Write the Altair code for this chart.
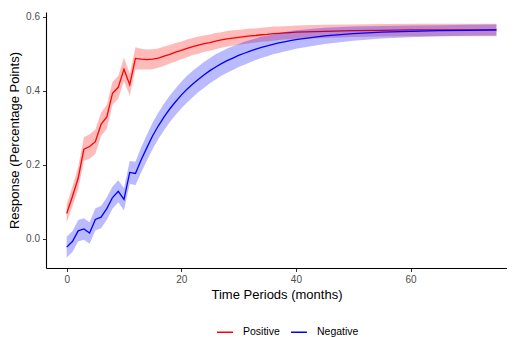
import altair as alt
import pandas as pd

months = list(range(0, 41)) + [45, 50, 55, 60, 65, 70, 75]

positive = [0.069, 0.115, 0.164, 0.243, 0.250, 0.263, 0.310, 0.330, 0.394, 0.410,
            0.459, 0.417, 0.488, 0.486, 0.485, 0.486, 0.489, 0.494, 0.499, 0.505,
            0.510, 0.515, 0.520, 0.524, 0.528, 0.531, 0.535, 0.538, 0.541, 0.543,
            0.545, 0.547, 0.549, 0.550, 0.552, 0.553, 0.555, 0.556, 0.557, 0.558,
            0.559, 0.561, 0.563, 0.564, 0.565, 0.565, 0.565, 0.565]
positive_se = [0.024, 0.027, 0.030, 0.032, 0.033, 0.033, 0.032, 0.032, 0.031, 0.031,
               0.031, 0.030, 0.030, 0.028, 0.027, 0.027, 0.026, 0.026, 0.025, 0.025,
               0.024, 0.024, 0.023, 0.023, 0.022, 0.022, 0.022, 0.021, 0.021, 0.021,
               0.020, 0.020, 0.020, 0.019, 0.019, 0.019, 0.019, 0.018, 0.018, 0.018,
               0.018, 0.018, 0.017, 0.017, 0.017, 0.017, 0.017, 0.017]

negative = [-0.022, -0.007, 0.022, 0.027, 0.016, 0.053, 0.059, 0.082, 0.112, 0.129,
            0.107, 0.180, 0.177, 0.214, 0.247, 0.279, 0.306, 0.330, 0.352, 0.371,
            0.389, 0.405, 0.419, 0.432, 0.444, 0.455, 0.465, 0.474, 0.482, 0.489,
            0.496, 0.502, 0.508, 0.513, 0.518, 0.522, 0.526, 0.530, 0.533, 0.536,
            0.539, 0.549, 0.555, 0.559, 0.561, 0.563, 0.564, 0.565]
negative_se = [0.028, 0.028, 0.029, 0.029, 0.029, 0.030, 0.030, 0.030, 0.030, 0.030,
               0.030, 0.031, 0.032, 0.034, 0.035, 0.036, 0.036, 0.036, 0.036, 0.036,
               0.036, 0.036, 0.036, 0.035, 0.035, 0.034, 0.034, 0.033, 0.033, 0.032,
               0.031, 0.031, 0.030, 0.029, 0.029, 0.028, 0.027, 0.027, 0.026, 0.026,
               0.025, 0.022, 0.019, 0.017, 0.016, 0.015, 0.015, 0.015]

series_names = ["Positive", "Negative"]
series_colors = ["#FF0000", "#0000FF"]

rows = []
for name, vals, ses in [("Positive", positive, positive_se), ("Negative", negative, negative_se)]:
    for t, v, s in zip(months, vals, ses):
        rows.append({"month": t, "value": v, "lo": v - s, "hi": v + s, "series": name})
df = pd.DataFrame(rows)

FONT = "Liberation Sans"
xscale = alt.Scale(domain=[-3.61, 76.84], nice=False, zero=False)
yscale = alt.Scale(domain=[-0.0784, 0.6135], nice=False, zero=False)
color = alt.Color(
    "series:N",
    scale=alt.Scale(domain=series_names, range=series_colors),
    legend=alt.Legend(
        title=None, orient="none", direction="horizontal",
        legendX=170, legendY=311, symbolType="stroke", symbolSize=256,
        symbolStrokeWidth=1.5, labelFontSize=10.5, labelFont=FONT,
        labelColor="#000000", labelOffset=9, columnPadding=8,
    ),
)

x = alt.X("month:Q", scale=xscale,
          axis=alt.Axis(values=[0, 20, 40, 60], title="Time Periods (months)"))
y = alt.Y("lo:Q", scale=yscale,
          axis=alt.Axis(values=[0, 0.2, 0.4, 0.6], format=".1f",
                        title="Response (Percentage Points)"))

layers = []
for name, c in zip(series_names, series_colors):
    sub = df[df.series == name]
    band = alt.Chart(sub).mark_area(color=c, opacity=0.27).encode(
        x=x, y=y, y2="hi:Q")
    line = alt.Chart(sub).mark_line(strokeWidth=1.3).encode(
        x=x, y=alt.Y("value:Q", scale=yscale), color=color)
    layers += [band, line]

chart = alt.layer(*layers).properties(
    width=461, height=256,
    autosize=alt.AutoSizeParams(type="none"),
    padding={"left": 38, "top": 4, "right": 0, "bottom": 72},
).configure_view(stroke=None).configure_axis(
    grid=False, domainColor="#000000", domainWidth=1.1,
    tickColor="#333333", tickSize=3.5, tickWidth=1,
    labelColor="#4D4D4D", labelFont=FONT, labelFontSize=10,
    titleFont=FONT, titleFontSize=13, titleFontWeight="normal", titleColor="#000000",
).configure_axisY(labelPadding=3, titlePadding=4).configure_axisX(
    labelPadding=3, titlePadding=4)

chart.save("out.html", embed_options={"renderer": "svg", "actions": False})
